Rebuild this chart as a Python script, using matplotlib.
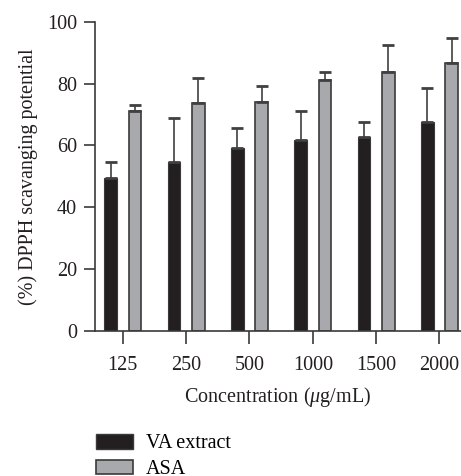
import numpy as np
import matplotlib
matplotlib.use('Agg')
from matplotlib import pyplot as plt
from matplotlib.patches import Patch

plt.rcParams['font.family'] = ['Liberation Serif', 'DejaVu Serif']
plt.rcParams['mathtext.fontset'] = 'custom'
plt.rcParams['mathtext.rm'] = 'Liberation Serif'
plt.rcParams['mathtext.it'] = 'Liberation Serif:italic'

# concentration groups (ug/mL)
conc = ['125', '250', '500', '1000', '1500', '2000']
# mean scavenging potential (%) and upper error
va_mean = [49.6, 54.8, 59.1, 61.9, 62.7, 67.7]
va_err = [4.9, 14.1, 6.4, 9.1, 5.0, 11.0]
asa_mean = [71.0, 73.6, 74.0, 81.1, 83.7, 86.8]
asa_err = [2.2, 8.3, 5.4, 2.8, 8.9, 7.9]

black = '#231f20'
grey = '#a7a9ac'
edge = '#3a3a3a'
fs = 14.5

fig = plt.figure(figsize=(4.61, 4.76), dpi=100)
ax = fig.add_axes([0.206, 0.305, 0.794, 0.649])

x = np.arange(len(conc))
w = 0.2
off = 0.19

ax.bar(x - off, va_mean, w, color=black, edgecolor=edge, linewidth=0.8,
       yerr=[np.zeros(len(va_err)), va_err], ecolor='#404040',
       error_kw=dict(elinewidth=1.2, capsize=4, capthick=2))
ax.bar(x + off, asa_mean, w, color=grey, edgecolor=edge, linewidth=1.2,
       yerr=[np.zeros(len(asa_err)), asa_err], ecolor='#404040',
       error_kw=dict(elinewidth=1.2, capsize=4, capthick=2))

ax.set_xlim(-0.44, 5.34)
ax.set_ylim(0, 100)
ax.set_yticks([0, 20, 40, 60, 80, 100])
ax.set_xticks(x)
ax.set_xticklabels(conc)

for s in ['top', 'right']:
    ax.spines[s].set_visible(False)
for s in ['left', 'bottom']:
    ax.spines[s].set_color(edge)
    ax.spines[s].set_linewidth(1.2)

ax.tick_params(axis='both', direction='out', length=8, width=1.2, color=edge,
               labelsize=fs, colors='#231f20', pad=5)
ax.tick_params(axis='x', length=9, pad=9)

ax.set_ylabel('(%) DPPH scavanging potential', fontsize=fs, color='#231f20', labelpad=6)
ax.set_xlabel(r'Concentration ($\mathit{\mu}$g/mL)', fontsize=fs, color='#231f20', labelpad=7)

handles = [Patch(facecolor=black, edgecolor=edge, label='VA extract'),
           Patch(facecolor=grey, edgecolor=edge, linewidth=1.2, label='ASA')]
fig.legend(handles=handles, loc='upper left', bbox_to_anchor=(0.19, 0.105), frameon=False,
           fontsize=fs, handlelength=1.85, handleheight=0.75, labelspacing=0.3,
           handletextpad=0.65, borderaxespad=0)

fig.savefig('out.png', dpi=100)
